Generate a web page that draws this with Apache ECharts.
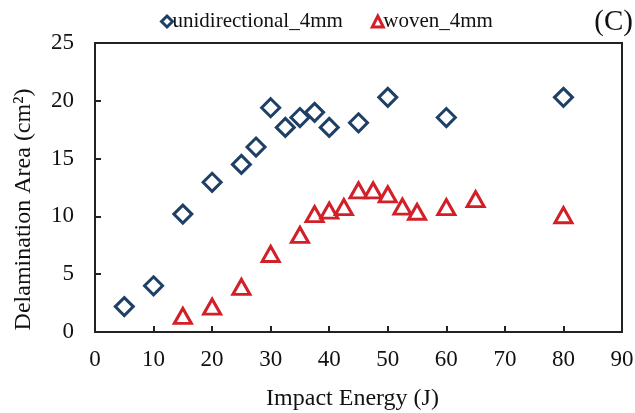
<!DOCTYPE html>
<html>
<head>
<meta charset="utf-8">
<script src="https://cdn.jsdelivr.net/npm/echarts@6/dist/echarts.min.js"></script>
<style>
  html, body { margin: 0; padding: 0; background: #fff; }
  #chart { width: 635px; height: 413px; }
</style>
</head>
<body>
<div id="chart"></div>
<script>
// Impact energy (J) and delamination area (cm²) per laminate type
const uniEnergy = [5, 10, 15, 20, 25, 27.5, 30, 32.5, 35, 37.5, 40, 45, 50, 60, 80];
const uniArea   = [2.2, 4.0, 10.2, 12.95, 14.5, 16.0, 19.4, 17.7, 18.55, 19.0, 17.7, 18.1, 20.3, 18.55, 20.3];

const wovenEnergy = [15, 20, 25, 30, 35, 37.5, 40, 42.5, 45, 47.5, 50, 52.5, 55, 60, 65, 80];
const wovenArea   = [1.4, 2.2, 3.9, 6.75, 8.4, 10.2, 10.5, 10.8, 12.25, 12.25, 11.9, 10.85, 10.4, 10.8, 11.5, 10.1];

const xTicks = [0, 10, 20, 30, 40, 50, 60, 70, 80, 90];
const yTicks = [0, 5, 10, 15, 20, 25];

const seriesNames = ['unidirectional_4mm', 'woven_4mm'];
const blue = '#1e3f66';
const red = '#d21f28';
const serif = 'Liberation Serif';

const pairs = (xs, ys) => xs.map((x, i) => [x, ys[i]]);

const chart = echarts.init(document.getElementById('chart'));
chart.setOption({
  animation: false,
  textStyle: { fontFamily: serif, color: '#111' },
  title: {
    text: '(C)',
    right: -3,
    top: 3,
    textStyle: { fontFamily: serif, fontSize: 29, fontWeight: 'normal', color: '#111' }
  },
  legend: {
    left: 155,
    top: 6,
    itemWidth: 11,
    itemHeight: 11,
    itemGap: 28,
    textStyle: { fontFamily: serif, fontSize: 21, color: '#111', padding: [0, 0, 0, -5] },
    data: [
      { name: seriesNames[0], icon: 'diamond', itemStyle: { color: '#fff', borderColor: blue, borderWidth: 3 } },
      { name: seriesNames[1], icon: 'triangle', itemStyle: { color: '#fff', borderColor: red, borderWidth: 3 } }
    ]
  },
  grid: {
    left: 95, right: 13, top: 43, bottom: 81,
    containLabel: false,
    outerBoundsMode: 'none',
    show: true, borderColor: '#222', borderWidth: 2, backgroundColor: 'transparent'
  },
  xAxis: {
    type: 'value',
    min: xTicks[0], max: xTicks[xTicks.length - 1], interval: 10,
    name: 'Impact Energy (J)',
    nameLocation: 'middle',
    nameGap: 55,
    nameTextStyle: { fontFamily: serif, fontSize: 24, color: '#111', padding: [0, 12, 0, 0] },
    axisLine: { show: true, lineStyle: { color: '#222', width: 2 } },
    axisTick: { show: true, inside: true, length: 6, lineStyle: { color: '#222', width: 2 } },
    axisLabel: { fontFamily: serif, fontSize: 23, color: '#111', margin: 16 },
    splitLine: { show: false }
  },
  yAxis: {
    type: 'value',
    min: yTicks[0], max: yTicks[yTicks.length - 1], interval: 5,
    name: 'Delamination Area (cm²)',
    nameLocation: 'middle',
    nameGap: 59,
    nameTextStyle: { fontFamily: serif, fontSize: 24, color: '#111', padding: [0, 44, 0, 0] },
    axisLine: { show: true, lineStyle: { color: '#222', width: 2 } },
    axisTick: { show: true, inside: true, length: 6, lineStyle: { color: '#222', width: 2 } },
    axisLabel: { fontFamily: serif, fontSize: 23, color: '#111', margin: 21 },
    splitLine: { show: false }
  },
  series: [
    {
      name: seriesNames[0],
      type: 'scatter',
      symbol: 'diamond',
      symbolSize: [18, 18],
      data: pairs(uniEnergy, uniArea),
      itemStyle: { color: '#fff', borderColor: blue, borderWidth: 3, opacity: 1 },
      z: 3
    },
    {
      name: seriesNames[1],
      type: 'scatter',
      symbol: 'triangle',
      symbolSize: [17, 15],
      data: pairs(wovenEnergy, wovenArea),
      itemStyle: { color: '#fff', borderColor: red, borderWidth: 3, opacity: 1 },
      z: 4
    }
  ]
});
</script>
</body>
</html>
